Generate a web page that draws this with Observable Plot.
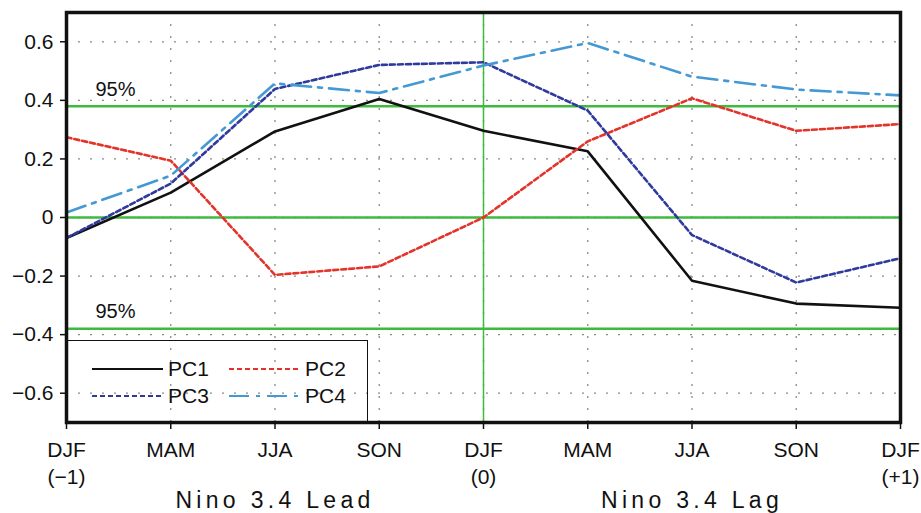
<!DOCTYPE html>
<html>
<head>
<meta charset="utf-8">
<script src="https://cdn.jsdelivr.net/npm/d3@7"></script>
<script src="https://cdn.jsdelivr.net/npm/@observablehq/plot@0.6"></script>
<style>
  html, body { margin: 0; padding: 0; background: #fff; }
  #wrap { position: relative; width: 921px; height: 513px; overflow: hidden; }
  #legend { position: absolute; left: 66px; top: 340px; width: 302px; height: 81px;
            border: 1.5px solid #111; border-bottom: none; border-left: none; box-sizing: border-box; }
  #legend svg { display: block; overflow: visible; }
</style>
</head>
<body>
<div id="wrap"></div>
<script>
// ---- data ----
const seasons = ["DJF\n(−1)", "MAM", "JJA", "SON", "DJF\n(0)", "MAM", "JJA", "SON", "DJF\n(+1)"];
const pc1 = [-0.070, 0.085, 0.294, 0.405, 0.296, 0.226, -0.216, -0.294, -0.308];
const pc2 = [0.274, 0.194, -0.196, -0.167, 0.000, 0.260, 0.407, 0.296, 0.319];
const pc3 = [-0.070, 0.116, 0.439, 0.521, 0.530, 0.365, -0.060, -0.222, -0.139];
const pc4 = [0.017, 0.143, 0.458, 0.425, 0.519, 0.596, 0.481, 0.437, 0.417];
const seriesNames = ["PC1", "PC2", "PC3", "PC4"];
const seriesValues = [pc1, pc2, pc3, pc4];
const yTicks = [-0.6, -0.4, -0.2, 0, 0.2, 0.4, 0.6];
const sigLevel = 0.38;
const sigLabel = "95%";
const refLines = [-sigLevel, 0, sigLevel];
const zeroLagIndex = 4;
const sectionLabels = ["Nino 3.4 Lead", "Nino 3.4 Lag"];
const sectionCenters = [2, 6];

// ---- styles ----
const seriesColors = ["#111111", "#e3342b", "#2f3a9c", "#4499d4"];
const seriesDash = [null, "5,3", "5,3", "20,7,4,7"];
const green = "#3fba3f";
const font = "'Liberation Sans', Arial, Helvetica, sans-serif";

const idx = d3.range(seasons.length);
const fmtY = d => d === 0 ? "0" : d3.format(".1f")(d);

const lineMarks = seriesValues.map((vals, k) =>
  Plot.line(vals.map((v, i) => ({i, v})), {
    x: "i", y: "v",
    stroke: seriesColors[k],
    strokeWidth: 2.6,
    strokeDasharray: seriesDash[k] || undefined,
    strokeLinejoin: "miter"
  })
);

const chart = Plot.plot({
  width: 921, height: 513,
  marginLeft: 66, marginRight: 21, marginTop: 12, marginBottom: 91,
  style: { fontFamily: font, fontSize: "21px", color: "#111", background: "white", overflow: "visible" },
  x: { domain: [0, seasons.length - 1] },
  y: { domain: [-0.7, 0.7] },
  marks: [
    Plot.gridX(idx, { stroke: "#8a8a8a", strokeOpacity: 1, strokeWidth: 1.3, strokeDasharray: "2,10" }),
    Plot.gridY(yTicks, { stroke: "#8a8a8a", strokeOpacity: 1, strokeWidth: 1.3, strokeDasharray: "2,10" }),
    Plot.ruleY(refLines, { stroke: green, strokeWidth: 2.6 }),
    Plot.ruleX([zeroLagIndex], { stroke: green, strokeWidth: 1.5 }),
    ...lineMarks,
    Plot.frame({ stroke: "#111", strokeWidth: 3.5 }),
    Plot.axisY(yTicks, { tickSize: 6, tickPadding: 7, tickFormat: fmtY, fontSize: 21, strokeWidth: 1.5, label: null }),
    Plot.axisX(idx, { tickSize: 7, tickPadding: 8, tickFormat: i => seasons[i], lineHeight: 1.3, fontSize: 21, strokeWidth: 1.5, label: null }),
    Plot.text([sigLevel, -sigLevel], { x: () => 0, y: d => d, text: () => sigLabel, dx: 29, dy: -17, textAnchor: "start", fontSize: 20 }),
    Plot.text(sectionLabels, { x: (d, i) => sectionCenters[i], frameAnchor: "bottom", text: d => d, dy: 85, lineAnchor: "bottom", fontSize: 23 })
  ]
});

d3.select(chart).selectAll("text").filter(function() {
  return sectionLabels.includes(this.textContent);
}).attr("letter-spacing", "4.3px");

const wrap = document.getElementById("wrap");
wrap.appendChild(chart);

// ---- legend (HTML overlay) ----
const legend = document.createElement("div");
legend.id = "legend";
wrap.appendChild(legend);
const lsvg = d3.select(legend).append("svg").attr("width", 300).attr("height", 80);
const cols = [26, 163];
const rows = [28, 55];
seriesNames.forEach((name, k) => {
  const cx = cols[k % 2], cy = rows[Math.floor(k / 2)];
  lsvg.append("line")
    .attr("x1", cx).attr("x2", cx + 71).attr("y1", cy).attr("y2", cy)
    .attr("stroke", seriesColors[k]).attr("stroke-width", 2.2)
    .attr("stroke-dasharray", seriesDash[k]);
  lsvg.append("text")
    .attr("x", cx + 76).attr("y", cy).attr("dy", "0.35em")
    .attr("font-family", font).attr("font-size", 21).attr("fill", "#111")
    .text(name);
});
</script>
</body>
</html>
